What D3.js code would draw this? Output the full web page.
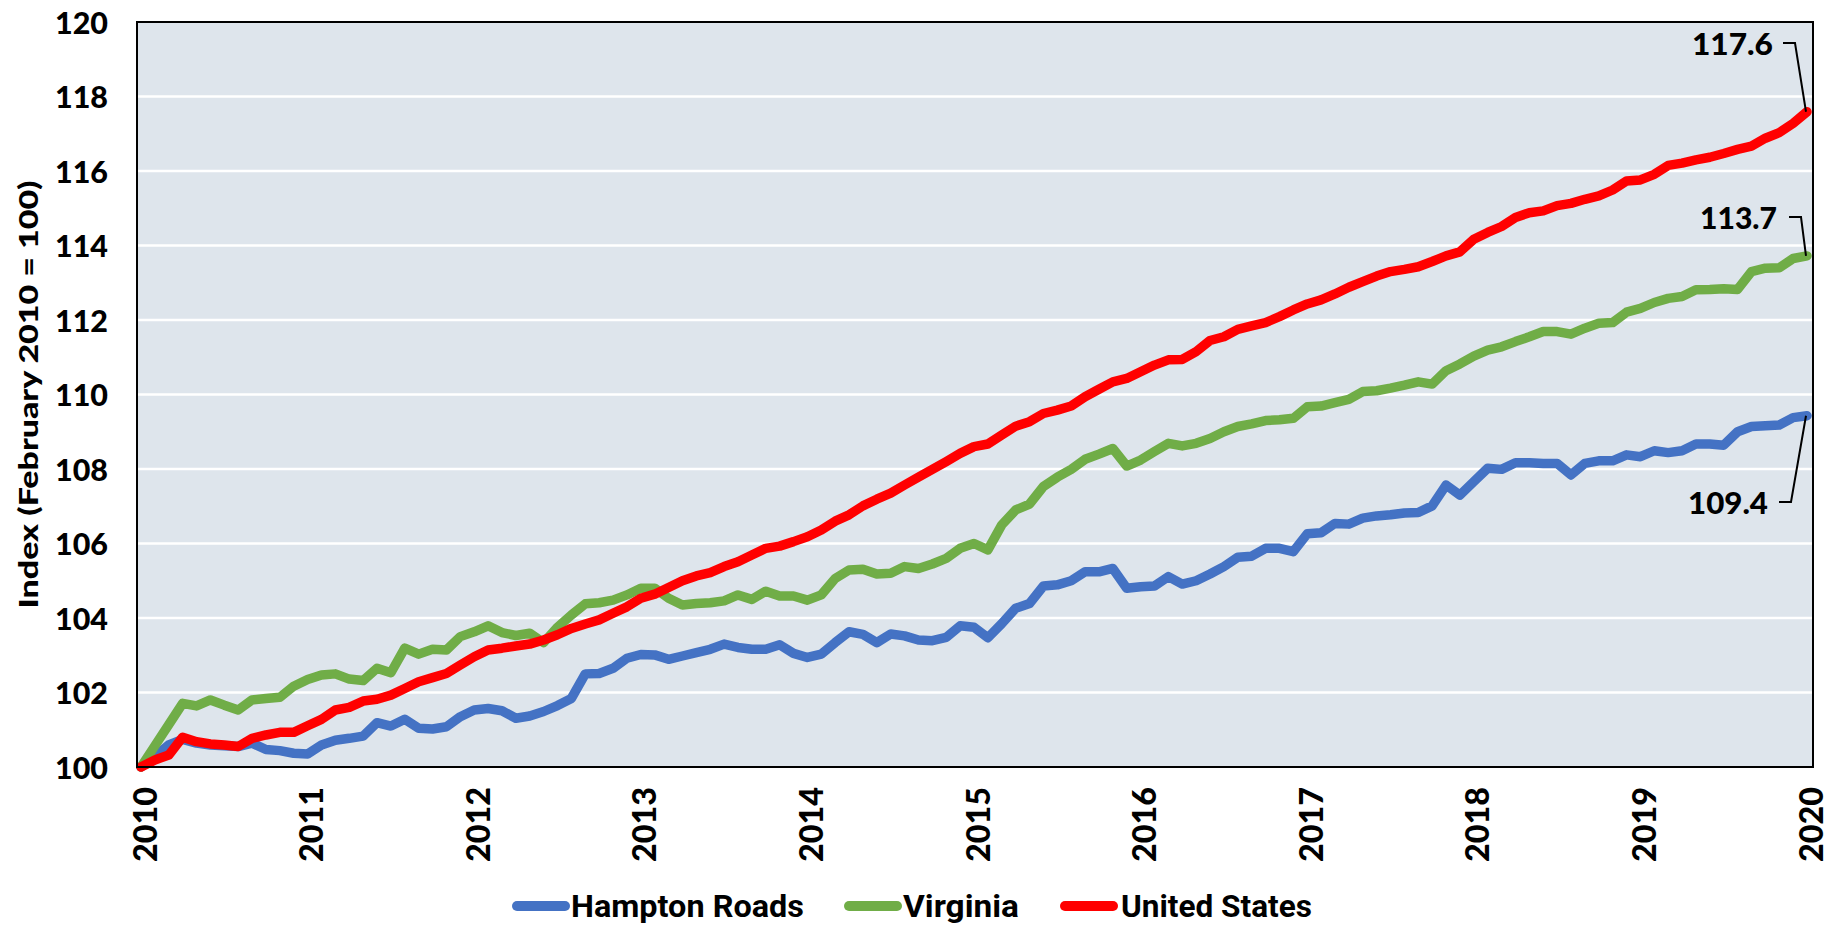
<!DOCTYPE html>
<html>
<head>
<meta charset="utf-8">
<script src="https://cdn.jsdelivr.net/npm/d3@7"></script>
<style>
  html, body { margin: 0; padding: 0; background: #fff; }
  svg { display: block; }
</style>
</head>
<body>
<svg id="chart" width="1837" height="927"></svg>
<script>
// ---- data ----
const seriesNames = ["Hampton Roads", "Virginia", "United States"];
const seriesColors = ["#4472C4", "#70AD47", "#FF0000"];
const yearLabels = ["2010","2011","2012","2013","2014","2015","2016","2017","2018","2019","2020"];
const yTicks = [100,102,104,106,108,110,112,114,116,118,120];

const hamptonRoads = [100,100.28,100.59,100.74,100.64,100.59,100.57,100.55,100.64,100.47,100.44,100.37,100.35,100.59,100.72,100.77,100.83,101.19,101.10,101.28,101.04,101.02,101.08,101.35,101.53,101.57,101.51,101.31,101.37,101.49,101.65,
101.84,102.50,102.51,102.65,102.92,103.02,103.01,102.89,102.98,103.07,
103.16,103.30,103.21,103.16,103.16,103.28,103.05,102.94,103.03,103.34,
103.63,103.56,103.34,103.57,103.52,103.41,103.39,103.48,103.79,103.75,
103.47,103.85,104.26,104.39,104.86,104.89,105.00,105.24,105.24,105.33,
104.80,104.84,104.86,105.11,104.91,105.00,105.18,105.38,105.63,105.66,
105.87,105.87,105.78,106.26,106.29,106.54,106.52,106.68,106.74,106.77,
106.82,106.83,107.01,107.57,107.30,107.66,108.02,107.99,108.17,108.17,
108.15,108.15,107.84,108.15,108.22,108.22,108.38,108.33,108.49,108.44,
108.49,108.67,108.67,108.64,109.00,109.14,109.16,109.18,109.38,109.43];

const virginia = [100,100.57,101.14,101.71,101.64,101.80,101.66,101.53,101.80,101.84,101.87,102.17,102.35,102.47,102.50,102.36,102.32,102.65,102.53,103.19,103.03,103.16,103.14,103.50,103.63,103.79,103.61,103.53,103.59,103.34,103.75,
104.08,104.38,104.41,104.48,104.62,104.80,104.80,104.53,104.35,104.39,
104.41,104.46,104.62,104.50,104.72,104.59,104.59,104.48,104.62,105.06,
105.29,105.31,105.18,105.20,105.38,105.33,105.45,105.60,105.87,106.00,
105.83,106.50,106.90,107.06,107.53,107.78,107.99,108.26,108.40,108.55,
108.08,108.24,108.47,108.69,108.62,108.69,108.82,109.00,109.14,109.21,
109.30,109.32,109.36,109.67,109.69,109.78,109.87,110.08,110.10,110.17,
110.25,110.34,110.28,110.64,110.82,111.03,111.19,111.28,111.42,111.55,
111.69,111.69,111.62,111.78,111.91,111.93,112.21,112.31,112.47,112.58,
112.63,112.81,112.82,112.84,112.82,113.30,113.39,113.40,113.65,113.72];

const unitedStates = [100,100.19,100.32,100.80,100.68,100.62,100.59,100.55,100.77,100.86,100.93,100.93,101.11,101.28,101.53,101.60,101.77,101.82,101.93,102.11,102.29,102.40,102.51,102.74,102.96,103.14,103.19,103.25,103.30,103.41,103.55,
103.72,103.84,103.95,104.13,104.30,104.53,104.64,104.82,105.00,105.13,
105.22,105.38,105.51,105.69,105.87,105.93,106.05,106.18,106.36,106.60,
106.77,107.01,107.19,107.35,107.57,107.78,107.99,108.20,108.42,108.60,
108.67,108.91,109.15,109.27,109.49,109.58,109.69,109.94,110.14,110.34,
110.43,110.61,110.79,110.93,110.94,111.15,111.45,111.55,111.75,111.84,
111.93,112.09,112.27,112.43,112.54,112.70,112.88,113.03,113.18,113.30,
113.36,113.43,113.57,113.72,113.83,114.17,114.35,114.51,114.75,114.88,
114.93,115.07,115.13,115.24,115.33,115.49,115.73,115.76,115.91,116.15,
116.21,116.30,116.37,116.47,116.58,116.67,116.88,117.03,117.28,117.59];

const endLabels = ["109.4", "113.7", "117.6"];
const yTitle = "Index (February 2010 = 100)";

// ---- layout ----
const svg = d3.select("#chart");
const frame = {left: 137, right: 1813, top: 22, bottom: 767};
const x = d3.scaleLinear().domain([0, 120]).range([141, 1807]);
const y = d3.scaleLinear().domain([100, 120]).range([767, 22]);
const labelFont = "'Lato', 'DejaVu Sans', sans-serif";

// background
svg.append("rect")
  .attr("x", frame.left).attr("y", frame.top)
  .attr("width", frame.right - frame.left).attr("height", frame.bottom - frame.top)
  .attr("fill", "#DEE5EC");

// gridlines
svg.append("g").selectAll("line")
  .data(yTicks.filter(t => t > 100 && t < 120))
  .join("line")
  .attr("x1", frame.left).attr("x2", frame.right)
  .attr("y1", d => y(d)).attr("y2", d => y(d))
  .attr("stroke", "#fff").attr("stroke-width", 2.5);

// y axis labels
const yAxis = d3.axisLeft(y).tickValues(yTicks).tickSize(0).tickPadding(0).tickFormat(d3.format("d"));
const yg = svg.append("g").attr("transform", `translate(108,0)`).call(yAxis);
yg.select(".domain").remove();
yg.selectAll("text")
  .attr("font-family", labelFont).attr("font-weight", 900)
  .attr("font-size", 31).attr("fill", "#000").attr("dy", "0.36em")
  .attr("textLength", 53).attr("lengthAdjust", "spacingAndGlyphs");

// x axis labels (rotated)
const xg = svg.append("g");
xg.selectAll("text")
  .data(yearLabels)
  .join("text")
  .attr("transform", (d, i) => `translate(${x(i * 12) + 4},787) rotate(-90)`)
  .attr("text-anchor", "end")
  .attr("dy", "0.36em")
  .attr("font-family", labelFont).attr("font-weight", 900)
  .attr("font-size", 32).attr("fill", "#000")
  .attr("textLength", 75).attr("lengthAdjust", "spacingAndGlyphs")
  .text(d => d);

// y title
svg.append("text")
  .attr("transform", `translate(28,${(frame.top + frame.bottom) / 2}) rotate(-90)`)
  .attr("text-anchor", "middle").attr("dy", "0.36em")
  .attr("font-family", labelFont).attr("font-weight", 900)
  .attr("font-size", 27).attr("fill", "#000")
  .attr("textLength", 428).attr("lengthAdjust", "spacingAndGlyphs")
  .text(yTitle);

// lines
const allSeries = [hamptonRoads, virginia, unitedStates];
const line = d3.line().x((d, i) => x(i)).y(d => y(d));
svg.append("g").selectAll("path")
  .data(allSeries)
  .join("path")
  .attr("d", line)
  .attr("fill", "none")
  .attr("stroke", (d, i) => seriesColors[i])
  .attr("stroke-width", 9.5)
  .attr("stroke-linejoin", "round")
  .attr("stroke-linecap", "round");

// frame border
svg.append("rect")
  .attr("x", frame.left).attr("y", frame.top)
  .attr("width", frame.right - frame.left).attr("height", frame.bottom - frame.top)
  .attr("fill", "none").attr("stroke", "#000").attr("stroke-width", 2);

// end labels with leader lines
const ann = [
  {s: 0, tx: 1768, ty: 514, hy: 502, hx1: 1779, hx2: 1791, w: 80},
  {s: 1, tx: 1777, ty: 229, hy: 217, hx1: 1789, hx2: 1801, w: 77},
  {s: 2, tx: 1773, ty: 55, hy: 43, hx1: 1783, hx2: 1795, w: 81}
];
const ag = svg.append("g");
ann.forEach(a => {
  const data = allSeries[a.s];
  const ex = x(data.length - 1), ey = y(data[data.length - 1]);
  ag.append("path")
    .attr("d", `M${a.hx1},${a.hy}H${a.hx2}L${ex - 1},${ey}`)
    .attr("fill", "none").attr("stroke", "#000").attr("stroke-width", 2);
  ag.append("text")
    .attr("x", a.tx).attr("y", a.ty)
    .attr("text-anchor", "end")
    .attr("font-family", labelFont).attr("font-weight", 900)
    .attr("font-size", 31).attr("fill", "#000")
    .attr("textLength", a.w).attr("lengthAdjust", "spacingAndGlyphs")
    .text(endLabels[a.s]);
});

// legend
const legendItems = [
  {lx: 512, tx: 571, w: 233},
  {lx: 844, tx: 903, w: 116},
  {lx: 1060, tx: 1121, w: 191}
];
const lg = svg.append("g");
legendItems.forEach((it, i) => {
  lg.append("line")
    .attr("x1", it.lx + 5).attr("x2", it.lx + 53)
    .attr("y1", 906).attr("y2", 906)
    .attr("stroke", seriesColors[i]).attr("stroke-width", 10)
    .attr("stroke-linecap", "round");
  lg.append("text")
    .attr("x", it.tx).attr("y", 917)
    .attr("font-family", "'Liberation Sans Narrow', 'Roboto', sans-serif")
    .attr("font-weight", 700).attr("font-size", 31).attr("fill", "#000")
    .attr("textLength", it.w).attr("lengthAdjust", "spacingAndGlyphs")
    .text(seriesNames[i]);
});
</script>
</body>
</html>
